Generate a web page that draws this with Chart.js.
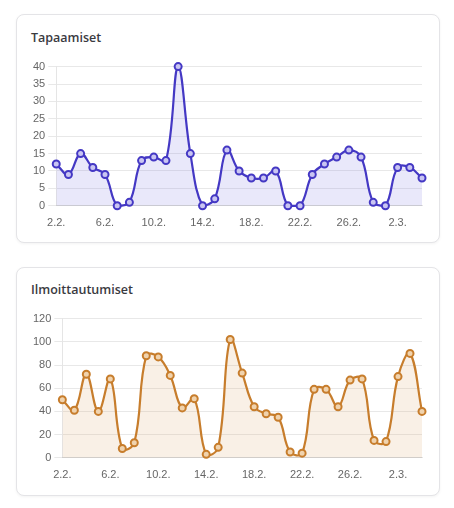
<!DOCTYPE html>
<html>
<head>
<meta charset="utf-8">
<script src="https://cdn.jsdelivr.net/npm/chart.js@4.4.1/dist/chart.umd.min.js"></script>
<style>
  body { margin: 0; background: #fff; font-family: "Open Sans", sans-serif; }
  .card {
    position: absolute; left: 16px; width: 424px; height: 229px;
    box-sizing: border-box; border: 1px solid #e4e4e7; border-radius: 8px;
    box-shadow: 0 1px 3px rgba(0,0,0,0.05); background: #fff;
  }
  .title {
    position: absolute; left: 31px; font-size: 12.5px; font-weight: 600;
    color: #3a3a3f; line-height: 18px;
  }
  .box { position: absolute; left: 30px; width: 398px; height: 176px; }
</style>
</head>
<body>
<div class="card" style="top:14px"></div>
<div class="title" style="top:29px">Tapaamiset</div>
<div class="box" style="top:57px"><canvas id="meetingsChart"></canvas></div>

<div class="card" style="top:267px"></div>
<div class="title" style="top:281px">Ilmoittautumiset</div>
<div class="box" style="top:309px"><canvas id="signupsChart"></canvas></div>

<script>
const days = ['2.2.', '3.2.', '4.2.', '5.2.', '6.2.', '7.2.', '8.2.', '9.2.', '10.2.', '11.2.',
  '12.2.', '13.2.', '14.2.', '15.2.', '16.2.', '17.2.', '18.2.', '19.2.', '20.2.', '21.2.',
  '22.2.', '23.2.', '24.2.', '25.2.', '26.2.', '27.2.', '28.2.', '1.3.', '2.3.', '3.3.', '4.3.'];

const meetings = [12, 9, 15, 11, 9, 0, 1, 13, 14, 13, 40, 15, 0, 2, 16, 10, 8, 8, 10, 0,
  0, 9, 12, 14, 16, 14, 1, 0, 11, 11, 8];

const signups = [50, 41, 72, 40, 68, 8, 13, 88, 87, 71, 43, 51, 3, 9, 102, 73, 44, 38, 35, 5,
  4, 59, 59, 44, 67, 68, 15, 14, 70, 90, 40];

function drawChart(id, values, label, color, fillColor, pointFill, stepSize, max) {
    const ctx = document.getElementById(id).getContext('2d');
    new Chart(ctx, {
        type: 'line',
        data: {
            labels: days,
            datasets: [{
                label: label,
                data: values,
                borderColor: color,
                backgroundColor: fillColor,
                pointBackgroundColor: pointFill,
                pointBorderColor: color,
                pointBorderWidth: 2,
                pointRadius: 3.5,
                borderWidth: 2.2,
                tension: 0.4,
                fill: true,
                clip: false
            }]
        },
        options: {
            responsive: true,
            maintainAspectRatio: false,
            animation: false,
            layout: { padding: { right: 6 } },
            plugins: {
                legend: { display: false },
                tooltip: { enabled: false }
            },
            scales: {
                x: {
                    grid: { display: false },
                    border: { color: 'rgba(0,0,0,0.1)' },
                    ticks: {
                        autoSkip: false,
                        maxRotation: 0,
                        color: '#666',
                        font: { size: 11 },
                        // joka neljäs päivä näkyviin
                        callback: function(value, index) {
                            return index % 4 === 0 ? days[index] : '';
                        }
                    }
                },
                y: {
                    beginAtZero: true,
                    max: max,
                    grid: { color: 'rgba(0,0,0,0.09)' },
                    border: { color: 'rgba(0,0,0,0.1)' },
                    ticks: {
                        stepSize: stepSize,
                        color: '#666',
                        font: { size: 11 }
                    }
                }
            }
        }
    });
}

drawChart('meetingsChart', meetings, 'Tapaamiset', '#4438c4', 'rgba(99, 90, 220, 0.14)', '#c9c5f2', 5, 40);
drawChart('signupsChart', signups, 'Ilmoittautumiset', '#c77d2c', 'rgba(214, 150, 80, 0.14)', '#f0d3ae', 20, 120);
</script>
</body>
</html>
